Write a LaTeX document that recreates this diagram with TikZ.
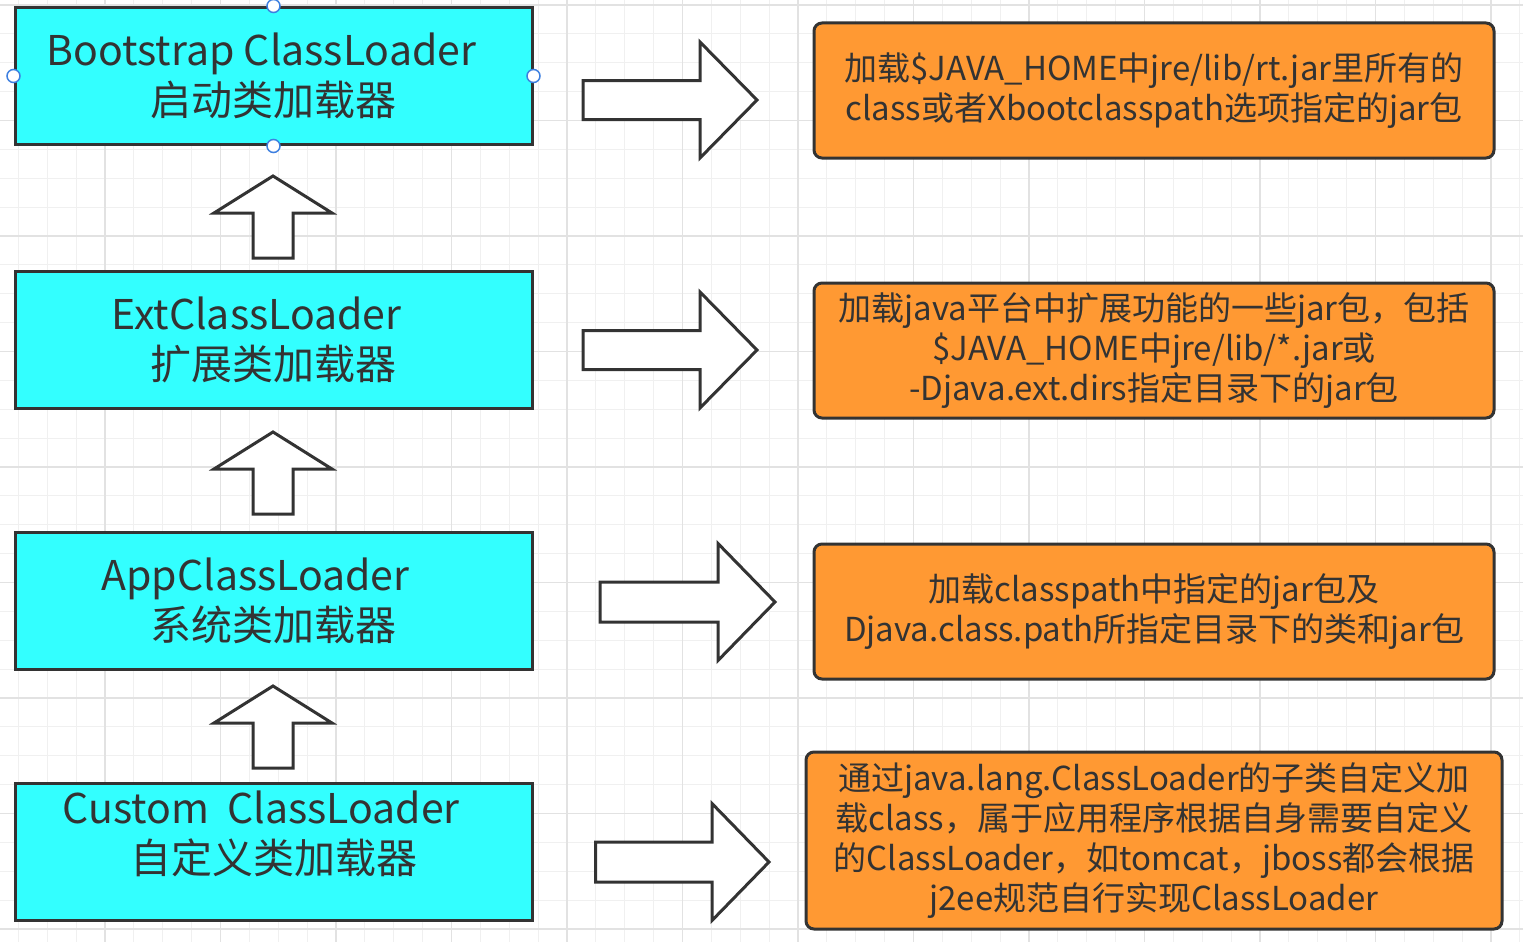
\documentclass[tikz,border=0pt]{standalone}
\usepackage{fontspec}
\setmainfont{Noto Sans CJK SC}
\usetikzlibrary{positioning}
\definecolor{loadercyan}{HTML}{33FFFF}
\definecolor{infoorange}{HTML}{FF9933}
\definecolor{boxline}{HTML}{333333}
\definecolor{textgray}{HTML}{333333}
\definecolor{handleblue}{HTML}{3D7FE0}
\definecolor{gridminor}{HTML}{F0F0F0}
\definecolor{gridmajor}{HTML}{E2E2E2}
\tikzstyle{LoaderBox}=[rectangle, draw=boxline, fill=loadercyan, line width=3pt, minimum width=517pt, minimum height=137pt, inner sep=0pt, font=\fontsize{41}{50}\selectfont, text=textgray, align=center]
\tikzstyle{LoaderText}=[font=\fontsize{41}{50}\selectfont, text=textgray, align=center, inner sep=0pt]
\tikzstyle{InfoBox}=[rectangle, rounded corners=8pt, draw=boxline, fill=infoorange, line width=3pt, minimum width=680pt, minimum height=135pt, inner sep=0pt, font=\fontsize{33}{40}\selectfont, text=textgray, align=center]
\tikzstyle{BlockArrow}=[draw=boxline, fill=white, line width=3pt, line join=miter]
\tikzstyle{Handle}=[circle, draw=handleblue, fill=white, line width=1.5pt, minimum size=13pt, inner sep=0pt]
\tikzstyle{MinorGrid}=[draw=gridminor, line width=1pt]
\tikzstyle{MajorGrid}=[draw=gridmajor, line width=1.3pt]

\begin{document}
\begin{tikzpicture}[x=1pt, y=-1pt]
			%Fondo
			\fill[white] (0,0) rectangle (1523,942);
			\useasboundingbox (0,0) rectangle (1523,942);
			\foreach \gx in {18.375,47.25,...,1523} \draw[MinorGrid] (\gx,0) -- (\gx,942);
			\foreach \gy in {5,33.875,...,942} \draw[MinorGrid] (0,\gy) -- (1523,\gy);
			\foreach \gx in {105,220.5,...,1523} \draw[MajorGrid] (\gx,0) -- (\gx,942);
			\foreach \gy in {5,120.5,...,942} \draw[MajorGrid] (0,\gy) -- (1523,\gy);

			%Nodos
			\node[LoaderBox]	(bootstrap)	at (273.5,76)	{Bootstrap ClassLoader\hspace*{24pt}\\启动类加载器};
			\node[LoaderBox]	(ext)		[below=123.5pt of bootstrap]	{ExtClassLoader\hspace*{34pt}\\扩展类加载器};
			\node[LoaderBox]	(app)		[below=121pt of ext]		{AppClassLoader\hspace*{36pt}\\系统类加载器};
			\node[LoaderBox]	(custom)	[below=111pt of app]		{};
			\node[LoaderText]	(custom_text)	at ([yshift=18pt]custom.center)	{Custom\ \ ClassLoader\hspace*{25pt}\\自定义类加载器};

			\node[InfoBox]	(bootstrap_info)	at (1154,90.5)	{加载\$JAVA\_HOME中jre/lib/rt.jar里所有的\\class或者Xbootclasspath选项指定的jar包};
			\node[InfoBox]	(ext_info)		at (1154,350.5)	{加载java平台中扩展功能的一些jar包，包括\\\$JAVA\_HOME中jre/lib/*.jar或\\-Djava.ext.dirs指定目录下的jar包};
			\node[InfoBox]	(app_info)		at (1154,611.5)	{加载classpath中指定的jar包及\\Djava.class.path所指定目录下的类和jar包};
			\node[InfoBox, minimum width=696pt, minimum height=177pt]	(custom_info)	at (1154,840.5)	{通过java.lang.ClassLoader的子类自定义加\\载class，属于应用程序根据自身需要自定义\\的ClassLoader，如tomcat，jboss都会根据\\j2ee规范自行实现ClassLoader};

			%Manejadores
			\node[Handle] (h_n) at (bootstrap.north) {};
			\node[Handle] (h_s) at (bootstrap.south) {};
			\node[Handle] (h_w) at (bootstrap.west) {};
			\node[Handle] (h_e) at (bootstrap.east) {};

			%Flechas
			\draw[BlockArrow] (253,258) -- (253,213) -- (214,213) -- (273,176) -- (332,213) -- (293,213) -- (293,258) -- cycle;
			\draw[BlockArrow] (253,514) -- (253,469) -- (214,469) -- (273,432) -- (332,469) -- (293,469) -- (293,514) -- cycle;
			\draw[BlockArrow] (253,768) -- (253,723) -- (214,723) -- (273,686) -- (332,723) -- (293,723) -- (293,768) -- cycle;

			\draw[BlockArrow] (583,80.5) -- (700,80.5) -- (700,42) -- (757,100) -- (700,158) -- (700,119.5) -- (583,119.5) -- cycle;
			\draw[BlockArrow] (583,330.5) -- (700,330.5) -- (700,292) -- (757,350) -- (700,408) -- (700,369.5) -- (583,369.5) -- cycle;
			\draw[BlockArrow] (600,582) -- (718,582) -- (718,543.5) -- (775,602) -- (718,660.5) -- (718,622) -- (600,622) -- cycle;
			\draw[BlockArrow] (595.5,842) -- (712,842) -- (712,803.5) -- (769,862) -- (712,920.5) -- (712,882) -- (595.5,882) -- cycle;

		\end{tikzpicture}
\end{document}
